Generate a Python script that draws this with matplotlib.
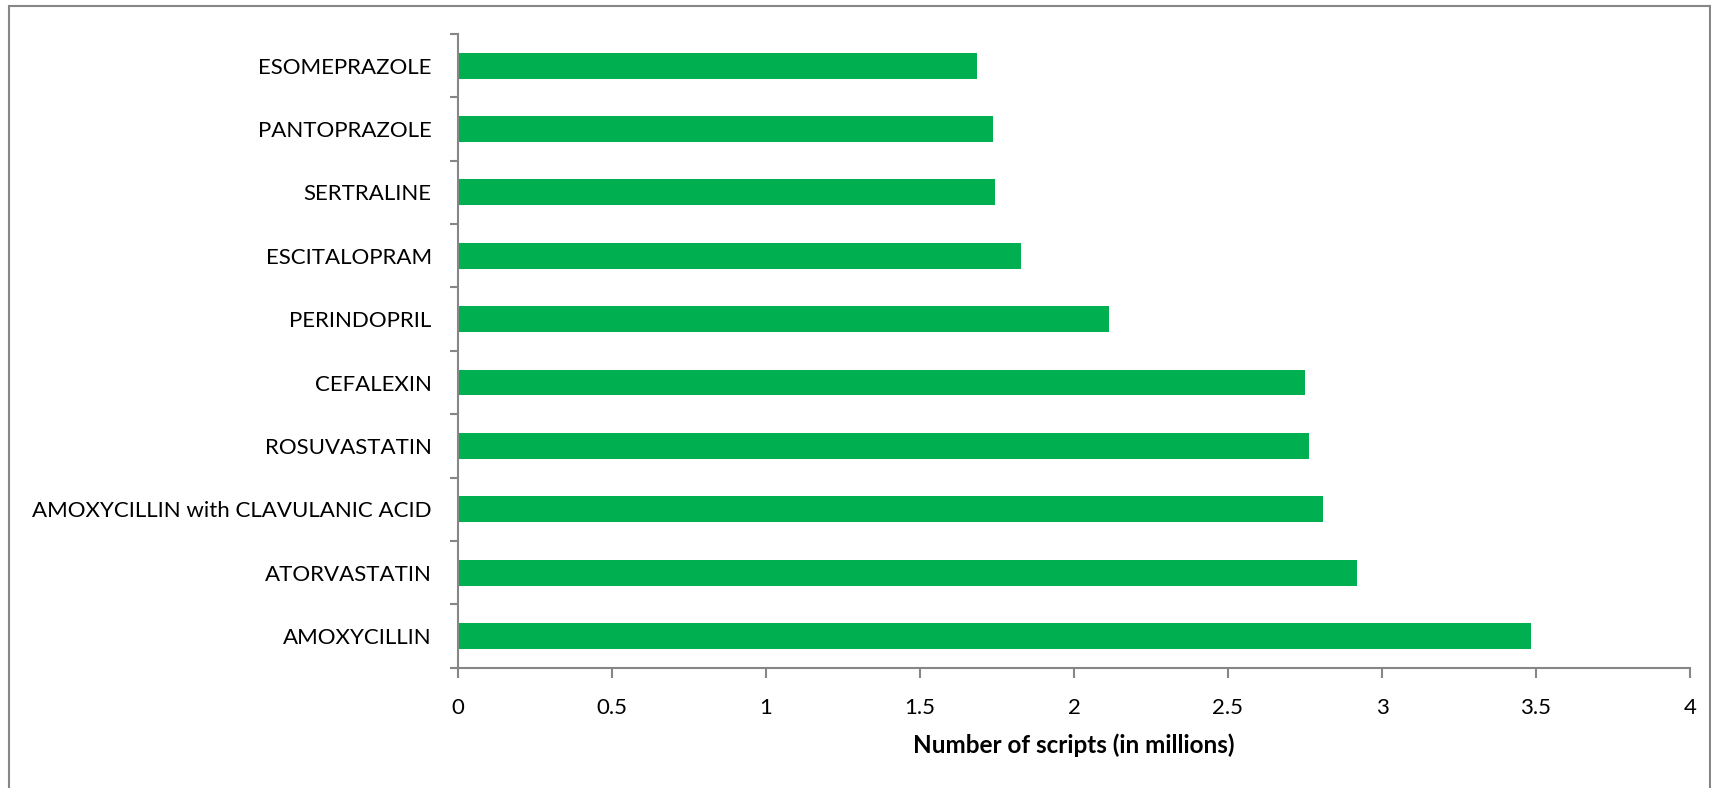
import matplotlib.pyplot as plt
from matplotlib.patches import Rectangle
import numpy as np

plt.rcParams['font.family'] = ['Lato', 'DejaVu Sans']

# Top 10 drugs by number of scripts (bottom to top)
drugs = ['AMOXYCILLIN', 'ATORVASTATIN', 'AMOXYCILLIN with CLAVULANIC ACID',
         'ROSUVASTATIN', 'CEFALEXIN', 'PERINDOPRIL', 'ESCITALOPRAM',
         'SERTRALINE', 'PANTOPRAZOLE', 'ESOMEPRAZOLE']
scripts_millions = [3.483, 2.919, 2.808, 2.763, 2.750, 2.114, 1.828,
                    1.744, 1.737, 1.685]
x_ticks = [0, 0.5, 1, 1.5, 2, 2.5, 3, 3.5, 4]

fig = plt.figure(figsize=(17.11, 7.88), dpi=100)
ax = fig.add_axes([0.2677, 0.1527, 0.72, 0.8042])

y = np.arange(len(drugs))
ax.barh(y, scripts_millions, height=0.41, color='#00B050')

ax.set_xlim(0, 4)
ax.set_ylim(-0.5, len(drugs) - 0.5)
ax.set_xticks(x_ticks)
ax.set_xticklabels([f'{t:g}' for t in x_ticks])
ax.set_yticks(y)
ax.set_yticklabels(drugs)
ax.set_yticks(np.arange(-0.5, len(drugs)), minor=True)

grey = '#868686'
for side in ['top', 'right']:
    ax.spines[side].set_visible(False)
for side in ['left', 'bottom']:
    ax.spines[side].set_color(grey)
    ax.spines[side].set_linewidth(1.5)

ax.tick_params(axis='y', which='major', length=0, pad=19, labelsize=16)
ax.tick_params(axis='y', which='minor', length=5.5, width=1.5, color=grey)
ax.tick_params(axis='x', length=7, width=1.5, color=grey, pad=15,
               labelsize=16)

ax.set_xlabel('Number of scripts (in millions)', fontsize=17.5,
              fontweight='bold', labelpad=11)

# chart-area border
fig.patches.append(Rectangle((0.0053, -0.01), 0.994, 1.0028,
                             transform=fig.transFigure, fill=False,
                             edgecolor=grey, linewidth=1.5))

fig.savefig('out.png', dpi=100)
